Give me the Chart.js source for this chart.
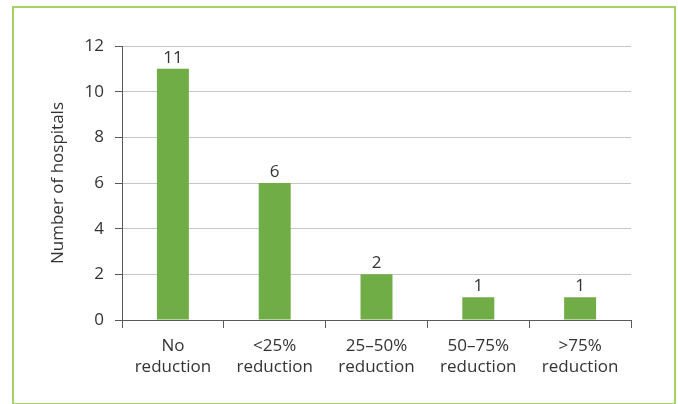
<!DOCTYPE html>
<html>
<head>
<meta charset="utf-8">
<script src="https://cdn.jsdelivr.net/npm/chart.js@4/dist/chart.umd.min.js"></script>
<style>
  html, body { margin: 0; padding: 0; background: #fff; }
  #wrap { position: relative; width: 678px; height: 404px; }
  #frame { position: absolute; left: 12px; top: 6px; width: 660px; height: 395px; border: 2px solid #a4d265; box-sizing: content-box; pointer-events: none; }
  canvas { position: absolute; left: 0; top: 0; }
</style>
</head>
<body>
<div id="wrap">
  <canvas id="c" width="678" height="404"></canvas>
  <div id="frame"></div>
</div>
<script>
// Hospitals grouped by how much they reduced
const categories = [["No", "reduction"], ["<25%", "reduction"], ["25\u201350%", "reduction"], ["50\u201375%", "reduction"], [">75%", "reduction"]];
const hospitals = [11, 6, 2, 1, 1];
const yTicks = [0, 2, 4, 6, 8, 10, 12];

const FONT = "'Open Sans', 'DejaVu Sans', sans-serif";
const TEXT = '#333333';

// writes each bar's value just above it
const valueLabels = {
  id: 'valueLabels',
  afterDatasetsDraw(chart) {
    const { ctx } = chart;
    const meta = chart.getDatasetMeta(0);
    ctx.save();
    ctx.font = '17px ' + FONT;
    ctx.fillStyle = TEXT;
    ctx.textAlign = 'center';
    ctx.textBaseline = 'alphabetic';
    meta.data.forEach((bar, i) => {
      ctx.fillText(String(chart.data.datasets[0].data[i]), bar.x, bar.y - 6);
    });
    ctx.restore();
  }
};

new Chart(document.getElementById('c'), {
  type: 'bar',
  data: {
    labels: categories,
    datasets: [{
      data: hospitals,
      backgroundColor: '#70ad47',
      barPercentage: 0.314,
      categoryPercentage: 1
    }]
  },
  options: {
    responsive: false,
    animation: false,
    layout: { padding: { left: 0, right: 47, top: 46, bottom: 0 } },
    plugins: { legend: { display: false }, tooltip: { enabled: false } },
    scales: {
      x: {
        offset: true,
        grid: { offset: true, drawOnChartArea: false, drawTicks: true, tickLength: 8, tickColor: '#595959' },
        border: { color: '#595959', width: 1 },
        ticks: { color: TEXT, font: { family: FONT, size: 17, lineHeight: 1.235 }, padding: 8, maxRotation: 0 },
        afterFit(s) { s.height = 84; }
      },
      y: {
        min: 0,
        max: 12,
        afterBuildTicks(s) { s.ticks = yTicks.map(v => ({ value: v })); },
        grid: { color: '#c6c6c6', drawTicks: true, tickLength: 7, tickColor: '#595959' },
        border: { color: '#595959', width: 1 },
        ticks: { color: TEXT, font: { family: FONT, size: 17 }, padding: 11 },
        title: { display: true, text: 'Number of hospitals', color: TEXT, font: { family: FONT, size: 17 }, padding: { top: 48, bottom: 0 } },
        afterFit(s) { s.width = 122; }
      }
    }
  },
  plugins: [valueLabels]
});
</script>
</body>
</html>
